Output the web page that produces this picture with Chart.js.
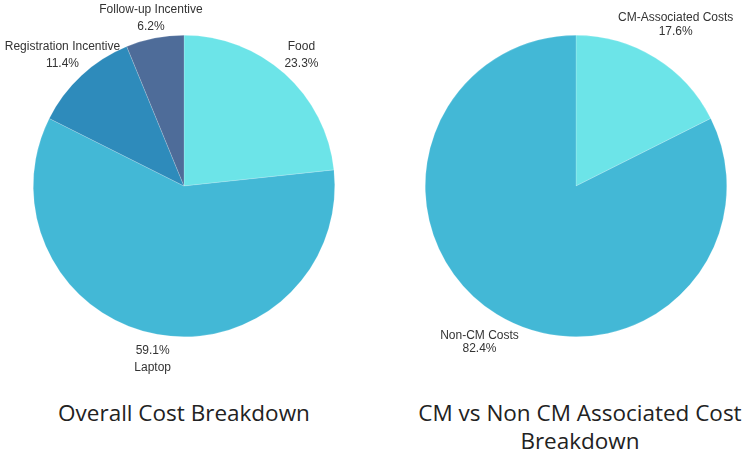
<!DOCTYPE html>
<html lang="en">
<head>
<meta charset="UTF-8">
<title>Cost Breakdown</title>
<script src="https://cdn.jsdelivr.net/npm/chart.js"></script>
<style>
  body { margin: 0; width: 750px; height: 452px; background: #fff; position: relative; overflow: hidden; }
  .pie { position: absolute; top: 0; width: 368px; height: 374px; }
  #left { left: 0; }
  #right { left: 392px; }
  .title {
    position: absolute;
    font-family: "Open Sans", sans-serif;
    font-size: 22.5px;
    color: #222;
    text-align: center;
    line-height: 28px;
    white-space: nowrap;
  }
</style>
</head>
<body>
  <div class="pie" id="left"><canvas id="chart-overall"></canvas></div>
  <div class="pie" id="right"><canvas id="chart-cm"></canvas></div>
  <div class="title" id="title-left" style="left:0; width:368px; top:399px;">Overall Cost Breakdown</div>
  <div class="title" id="title-right" style="left:396px; width:368px; top:399px;">CM vs Non CM Associated Cost<br>Breakdown</div>

<script>
  // dados (%)
  const overallLabels = ['Food', 'Laptop', 'Registration Incentive', 'Follow-up Incentive'];
  const overallValues = [23.3, 59.1, 11.4, 6.2];
  const overallColors = ['#6ce4e8', '#43b8d6', '#2e8bbb', '#4e6c99'];

  const cmLabels = ['CM-Associated Costs', 'Non-CM Costs'];
  const cmValues = [17.6, 82.4];
  const cmColors = ['#6ce4e8', '#43b8d6'];

  // rótulos fora da pizza: nome + porcentagem
  const outsideLabels = {
    id: 'outsideLabels',
    afterDatasetsDraw(chart, args, opts) {
      const ctx = chart.ctx;
      const meta = chart.getDatasetMeta(0);
      const values = chart.data.datasets[0].data;
      ctx.save();
      ctx.font = '12px "Liberation Sans", Arial, sans-serif';
      ctx.fillStyle = '#333';
      ctx.textAlign = 'center';
      ctx.textBaseline = 'middle';
      meta.data.forEach((arc, i) => {
        const p = arc.getProps(['x', 'y', 'startAngle', 'endAngle', 'outerRadius'], true);
        const mid = (p.startAngle + p.endAngle) / 2;
        const r = p.outerRadius + opts.offsets[i];
        const x = p.x + Math.cos(mid) * r;
        const y = p.y + Math.sin(mid) * r;
        const lines = [chart.data.labels[i], values[i].toFixed(1) + '%'];
        if (opts.pctFirst.includes(i)) lines.reverse();
        lines.forEach((t, j) => {
          ctx.fillText(t, x, y + (j - (lines.length - 1) / 2) * opts.lineHeight);
        });
      });
      ctx.restore();
    }
  };

  function makePie(id, labels, values, colors, pad, labelOpts) {
    return new Chart(document.getElementById(id), {
      type: 'pie',
      data: {
        labels: labels,
        datasets: [{
          data: values,
          backgroundColor: colors,
          borderColor: 'rgba(255,255,255,0.35)',
          borderWidth: 0.5
        }]
      },
      options: {
        responsive: true,
        maintainAspectRatio: false,
        animation: false,
        layout: { padding: pad },
        plugins: {
          legend: { display: false },
          tooltip: { enabled: false },
          outsideLabels: labelOpts
        }
      },
      plugins: [outsideLabels]
    });
  }

  makePie('chart-overall', overallLabels, overallValues, overallColors,
    { left: 33, right: 33, top: 35, bottom: 37 },
    { offsets: [25, 25, 28, 20], lineHeight: 17, pctFirst: [1] });

  makePie('chart-cm', cmLabels, cmValues, cmColors,
    { left: 33, right: 33, top: 35, bottom: 37 },
    { offsets: [39, 33], lineHeight: 13.5, pctFirst: [] });
</script>
</body>
</html>
